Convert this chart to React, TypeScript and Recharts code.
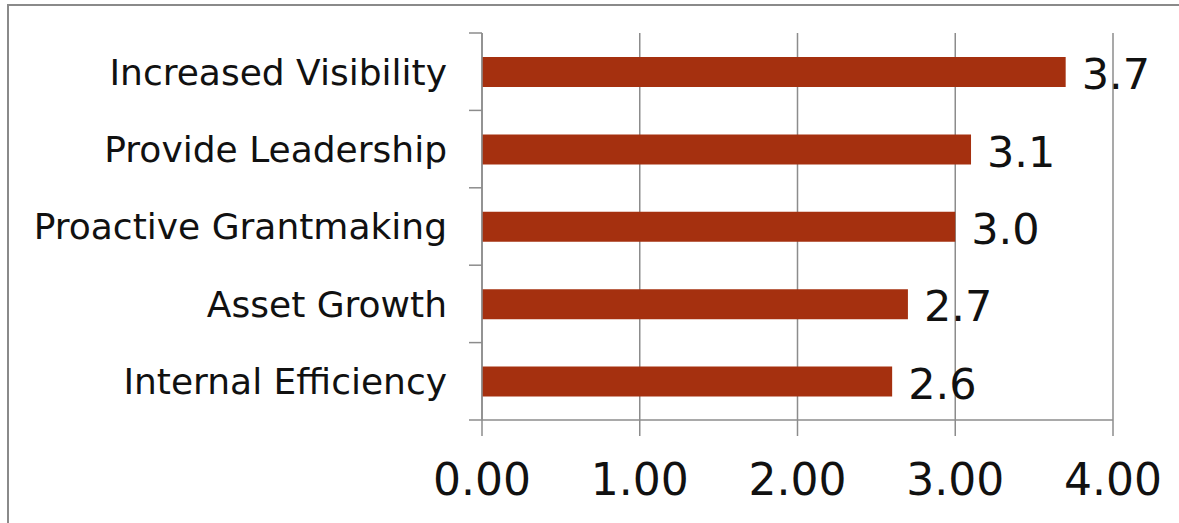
import React from "react";
import { BarChart, Bar, XAxis, YAxis, CartesianGrid, LabelList } from "recharts";

// Categories, top to bottom
const categories: string[] = [
  "Increased Visibility",
  "Provide Leadership",
  "Proactive Grantmaking",
  "Asset Growth",
  "Internal Efficiency",
];

// Average score per category
const scores: number[] = [3.7, 3.1, 3.0, 2.7, 2.6];

// Value axis ticks
const xTicks: number[] = [0, 1, 2, 3, 4];

const data = categories.map((name, i) => ({ name, score: scores[i] }));

const FONT = "'DejaVu Sans', sans-serif";
const GRID = "#8c8c8c";
const BAR = "#A5300F";

// Category tick: label to the left, tick marks on band boundaries
const CategoryTick = (props: any) => {
  const { x, y, payload, index, visibleTicksCount } = props;
  const half = payload && typeof payload.offset === "number" ? payload.offset : 0;
  const last = index === (visibleTicksCount ?? categories.length) - 1;
  return (
    <g>
      <line x1={x - 13} x2={x} y1={y - half} y2={y - half} stroke={GRID} strokeWidth={1.5} />
      {last && (
        <line x1={x - 13} x2={x} y1={y + half} y2={y + half} stroke={GRID} strokeWidth={1.5} />
      )}
      <text
        x={x - 35}
        y={y}
        dy="0.36em"
        textAnchor="end"
        fontFamily={FONT}
        fontSize={36}
        fill="#111"
      >
        {payload.value}
      </text>
    </g>
  );
};

export default function App() {
  return (
    <div style={{ position: "absolute", left: 0, top: 0, width: 1179, height: 523, overflow: "hidden", background: "#fff" }}>
      <div
        style={{
          position: "absolute",
          left: 7,
          top: 4,
          width: 1250,
          height: 600,
          border: "2px solid #8a8a8a",
          boxSizing: "border-box",
        }}
      />
      <div style={{ position: "absolute", left: 0, top: 0 }}>
        <BarChart
          width={1179}
          height={523}
          data={data}
          layout="vertical"
          margin={{ top: 33, right: 66, bottom: 0, left: 0 }}
          barSize={30}
        >
          <CartesianGrid horizontal={false} vertical stroke={GRID} strokeWidth={1.5} />
          <XAxis
            type="number"
            domain={[0, 4]}
            ticks={xTicks}
            tickFormatter={(v: number) => v.toFixed(2)}
            height={103}
            tickSize={16}
            tickMargin={28}
            axisLine={{ stroke: GRID, strokeWidth: 1.5 }}
            tickLine={{ stroke: GRID, strokeWidth: 1.5 }}
            tick={{ fontFamily: FONT, fontSize: 44, fill: "#111" }}
            interval={0}
          />
          <YAxis
            type="category"
            dataKey="name"
            width={482}
            tickSize={0}
            tickMargin={0}
            tickLine={false}
            axisLine={{ stroke: GRID, strokeWidth: 1.5 }}
            tick={<CategoryTick />}
            interval={0}
          />
          <Bar dataKey="score" fill={BAR} isAnimationActive={false}>
            <LabelList
              dataKey="score"
              position="right"
              offset={16}
              formatter={(v: any) => Number(v).toFixed(1)}
              style={{ fontFamily: FONT, fontSize: 43, fill: "#111", transform: "translateY(2px)" }}
            />
          </Bar>
        </BarChart>
      </div>
    </div>
  );
}
